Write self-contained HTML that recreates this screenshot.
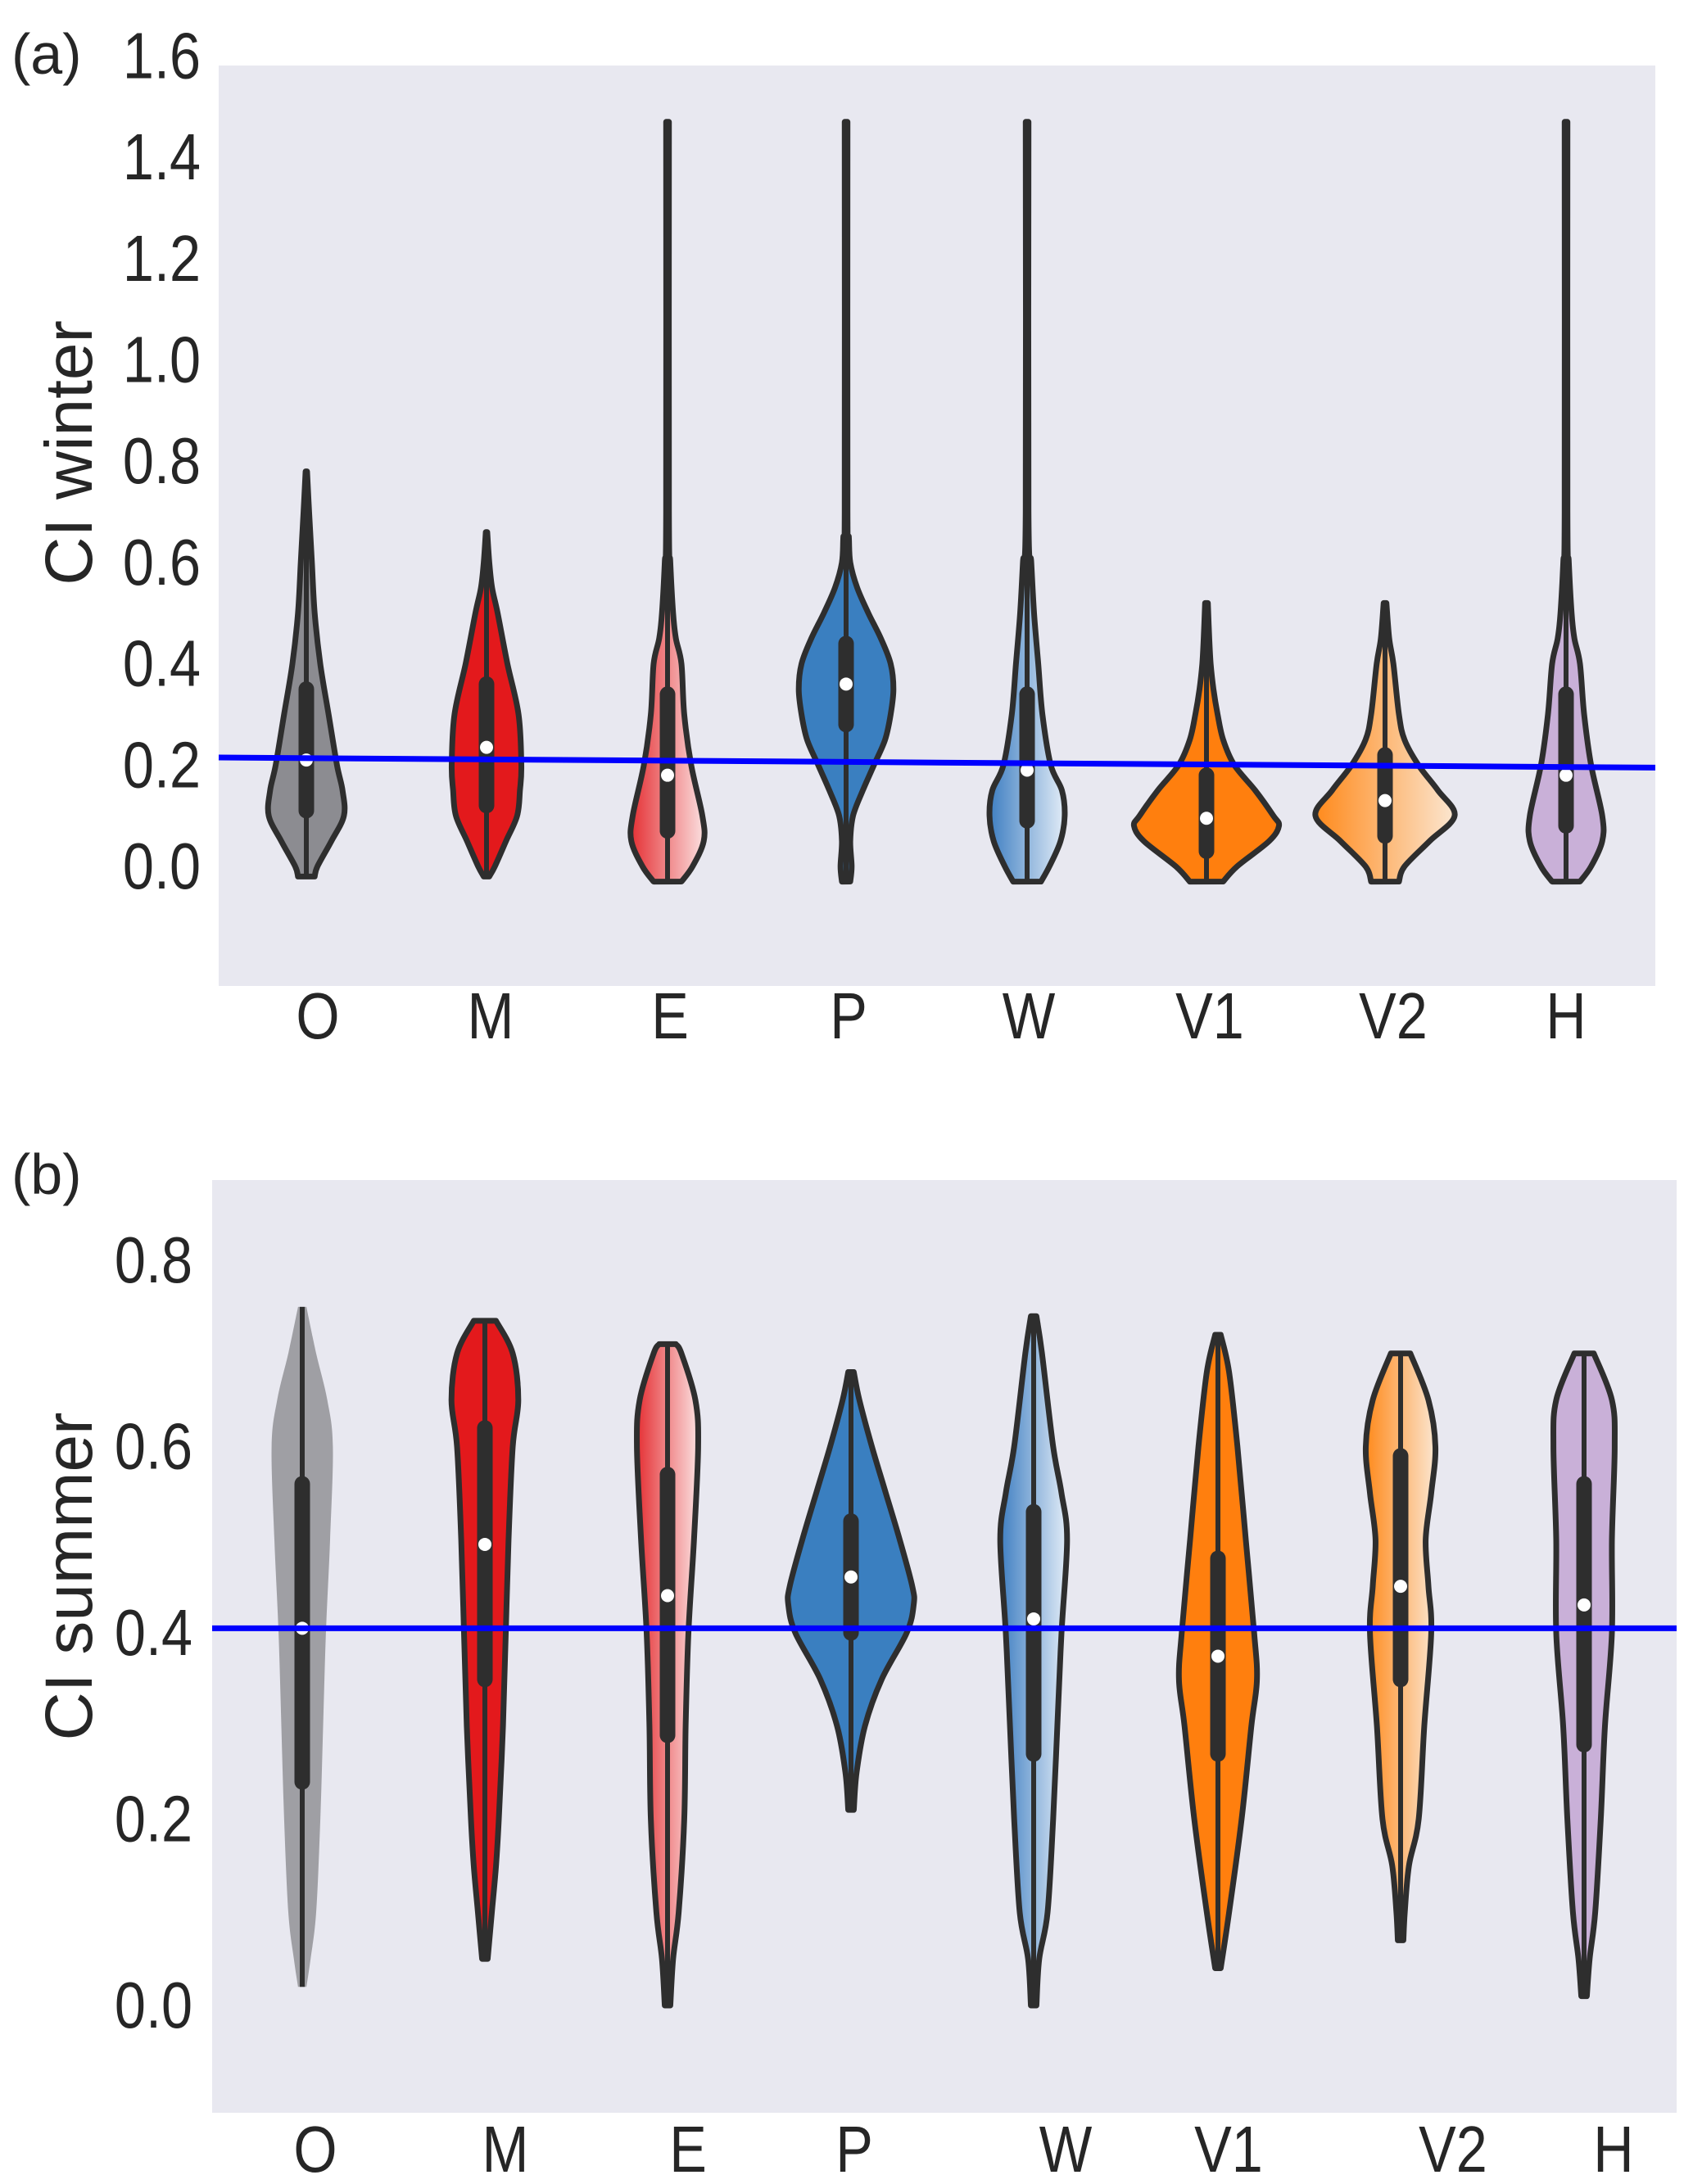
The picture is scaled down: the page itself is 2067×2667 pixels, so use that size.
<!DOCTYPE html>
<html><head><meta charset="utf-8"><style>
html,body{margin:0;padding:0;background:#fff}
svg{display:block}
text{font-family:"Liberation Sans","DejaVu Sans",sans-serif;fill:#262626}
</style></head><body>
<svg id="fig" width="2067" height="2667" viewBox="0 0 2067 2667" xmlns="http://www.w3.org/2000/svg">
<defs>
<linearGradient id="gE" x1="0" x2="1"><stop offset="0" stop-color="#e53034"/><stop offset="1" stop-color="#fbe0e0"/></linearGradient>
<linearGradient id="gW" x1="0" x2="1"><stop offset="0" stop-color="#3f7fc2"/><stop offset="1" stop-color="#e2ecf7"/></linearGradient>
<linearGradient id="gV2" x1="0" x2="1"><stop offset="0" stop-color="#ff8a1c"/><stop offset="1" stop-color="#fbe6d0"/></linearGradient>
</defs>
<g id="panelA"></g>
<g id="panelB"></g>
</svg>
<script>
const categories = ["O","M","E","P","W","V1","V2","H"];
const fills = ["#8c8c91","#e3191c","url(#gE)","#3a7fc0","url(#gW)","#ff7f0e","url(#gV2)","#c9b0d8"];

const winterProfiles = [
 [[-0.02,6],[0,8],[0.05,18],[0.1,27],[0.15,26],[0.2,22],[0.3,16],[0.4,10],[0.5,6],[0.6,4],[0.7,2],[0.78,0.5]],
 [[-0.02,2],[0,6],[0.05,14],[0.1,22],[0.15,24],[0.2,25],[0.3,23],[0.4,15],[0.5,8],[0.55,4],[0.6,2],[0.66,0.5]],
 [[-0.03,10],[0,18],[0.05,26],[0.1,25],[0.2,17],[0.3,12],[0.4,10],[0.45,6],[0.5,4],[0.6,2],[0.7,1],[1.47,1]],
 [[-0.03,3],[0,4],[0.05,3],[0.1,5],[0.15,12],[0.2,20],[0.25,28],[0.3,32],[0.35,34],[0.4,32],[0.45,25],[0.5,16],[0.55,8],[0.6,3],[0.65,2],[0.7,1],[1.47,1]],
 [[-0.03,10],[0,16],[0.05,24],[0.1,27],[0.15,25],[0.2,17],[0.3,11],[0.4,8],[0.5,5],[0.6,3],[0.7,1],[1.47,1]],
 [[-0.03,12],[0,22],[0.05,45],[0.08,52],[0.1,48],[0.15,35],[0.2,20],[0.25,12],[0.3,8],[0.35,5],[0.4,3],[0.45,2],[0.52,1]],
 [[-0.03,10],[0,14],[0.05,32],[0.1,50],[0.15,38],[0.2,24],[0.25,14],[0.3,10],[0.4,6],[0.45,3],[0.52,1]],
 [[-0.03,10],[0,18],[0.05,26],[0.1,26],[0.2,18],[0.3,13],[0.4,10],[0.45,6],[0.5,4],[0.6,2],[0.7,1],[1.47,1]]
];
const winterQ1 = [0.11,0.12,0.07,0.28,0.09,0.03,0.06,0.08];
const winterQ3 = [0.35,0.36,0.34,0.44,0.34,0.18,0.22,0.34];
const winterMedian = [0.21,0.235,0.18,0.36,0.19,0.095,0.13,0.18];
const winterRef = [0.215,0.195];

const summerProfiles = [
 [[0.02,3],[0.05,6],[0.1,10],[0.2,13],[0.3,15],[0.4,17],[0.5,20],[0.6,22],[0.65,18],[0.7,10],[0.75,3]],
 [[0.05,2],[0.1,5],[0.15,8],[0.2,10],[0.3,13],[0.4,15],[0.5,17],[0.6,20],[0.65,24],[0.7,20],[0.735,8]],
 [[0.0,2],[0.05,4],[0.1,8],[0.2,12],[0.3,13],[0.4,15],[0.5,19],[0.6,22],[0.65,20],[0.7,10],[0.71,6]],
 [[0.21,2],[0.25,4],[0.3,10],[0.35,22],[0.4,40],[0.43,45],[0.45,44],[0.5,35],[0.55,25],[0.6,15],[0.65,6],[0.68,2]],
 [[0.0,2],[0.05,4],[0.1,10],[0.2,14],[0.3,17],[0.4,20],[0.5,24],[0.55,20],[0.6,14],[0.7,6],[0.74,2]],
 [[0.04,2],[0.1,8],[0.2,17],[0.3,24],[0.35,28],[0.4,26],[0.5,20],[0.6,14],[0.68,8],[0.72,2]],
 [[0.07,2],[0.1,3],[0.15,6],[0.2,13],[0.3,17],[0.4,22],[0.45,20],[0.5,18],[0.55,22],[0.6,25],[0.65,20],[0.7,7]],
 [[0.01,2],[0.05,4],[0.1,8],[0.2,12],[0.3,15],[0.4,20],[0.5,20],[0.6,22],[0.65,20],[0.7,7]]
];
const summerQ1 = [0.24,0.35,0.29,0.40,0.27,0.27,0.35,0.28];
const summerQ3 = [0.56,0.62,0.57,0.52,0.53,0.48,0.59,0.56];
const summerMedian = [0.405,0.495,0.44,0.46,0.415,0.375,0.45,0.43];
const summerRef = [0.405,0.405];

const winterTicks = ["0.0","0.2","0.4","0.6","0.8","1.0","1.2","1.4","1.6"];
const summerTicks = ["0.0","0.2","0.4","0.6","0.8"];

const NS="http://www.w3.org/2000/svg";
function mk(parent,tag,attrs){const e=document.createElementNS(NS,tag);for(const k in attrs)e.setAttribute(k,attrs[k]);parent.appendChild(e);return e;}

function smooth(pts){
  let d="M"+pts[0][0]+","+pts[0][1];
  for(let i=0;i<pts.length-1;i++){
    const p0=pts[Math.max(0,i-1)],p1=pts[i],p2=pts[i+1],p3=pts[Math.min(pts.length-1,i+2)];
    const c1=[p1[0]+(p2[0]-p0[0])/6,p1[1]+(p2[1]-p0[1])/6];
    const c2=[p2[0]-(p3[0]-p1[0])/6,p2[1]-(p3[1]-p1[1])/6];
    d+=" C"+c1[0].toFixed(1)+","+c1[1].toFixed(1)+" "+c2[0].toFixed(1)+","+c2[1].toFixed(1)+" "+p2[0].toFixed(1)+","+p2[1].toFixed(1);
  }
  return d;
}

function panel(g,cfg){
  const yS=v=>cfg.y0-(v/0.2)*cfg.step;
  const xS=i=>cfg.cx[i];
  const bg=mk(g,"rect",{x:cfg.bx,y:cfg.by,width:cfg.bw,height:cfg.bh,fill:"#e8e8f0"});
  
  
  cfg.ticks.forEach((t)=>{
    const tx=mk(g,"text",{x:0,y:0,"text-anchor":"end","font-size":76,transform:`translate(${cfg.tickX},${yS(parseFloat(t))+27}) scale(0.9,1.05)`});
    tx.textContent=t;
    
    
  });
  const yl=mk(g,"text",{x:0,y:0,"text-anchor":"middle","font-size":82,transform:`translate(${cfg.ylx},${cfg.yly}) rotate(-90)`});
  yl.textContent=cfg.ylabel;
  
  
  const pl=mk(g,"text",{x:14,y:cfg.ply,"font-size":70});
  pl.textContent=cfg.plabel;
  
  
  categories.forEach((c,i)=>{
    const prof=cfg.profiles[i];const cx=xS(i);const sc=1.701;
    const right=prof.map(p=>[cx+p[1]*sc,yS(p[0])]);
    const left=prof.slice().reverse().map(p=>[cx-p[1]*sc,yS(p[0])]);
    const d=smooth(right)+" L"+left[0][0].toFixed(1)+","+left[0][1].toFixed(1)+smooth(left).replace(/^M[^C]*/,"")+" Z";
    const v=mk(g,"path",{d:d,fill:fills[i],stroke:cfg.noOutline[i]?"none":"#2e2e2e","stroke-width":7,"stroke-linejoin":"round","fill-opacity":cfg.noOutline[i]?0.8:1});
    
    
    const lo=prof[0][0],hi=prof[prof.length-1][0];
    const wl=mk(g,"line",{x1:cx,x2:cx,y1:yS(lo),y2:yS(hi),stroke:"#2e2e2e","stroke-width":6});
    
    
    const bx=mk(g,"line",{x1:cx,x2:cx,y1:yS(cfg.q1[i]),y2:yS(cfg.q3[i]),stroke:"#2e2e2e","stroke-width":19,"stroke-linecap":"round"});
    
    
    const md=mk(g,"circle",{cx:cx,cy:yS(cfg.med[i]),r:8,fill:"#fff"});
    
    
    const xl=mk(g,"text",{x:0,y:0,"text-anchor":"middle","font-size":76,transform:`translate(${cfg.lx[i]},${cfg.ly}) scale(0.9,1.05)`});
    xl.textContent=c;
    
    
  });
  const rl=mk(g,"line",{x1:cfg.bx,x2:cfg.bx+cfg.bw,y1:yS(cfg.ref[0]),y2:yS(cfg.ref[1]),stroke:"#0000ff","stroke-width":7});
  
  
}

panel(document.getElementById("panelA"),{
  bx:267,by:80,bw:1754,bh:1124,y0:1058,step:123.7,tickX:245,ticks:winterTicks,
  cx:[374,594,815,1033,1254,1473,1691,1912],lx:[388,599,818,1036,1256,1477,1701,1912],ly:1268,
  profiles:winterProfiles,q1:winterQ1,q3:winterQ3,med:winterMedian,ref:winterRef,
  ylabel:"CI winter",ylx:112,yly:553,plabel:"(a)",ply:90,noOutline:[false,false,false,false,false,false,false,false]
});
panel(document.getElementById("panelB"),{
  bx:259,by:1441,bw:1788,bh:1139,y0:2449,step:227.5,tickX:235,ticks:summerTicks,
  cx:[369,592,815,1039,1262,1487,1710,1934],lx:[385,617,840,1043,1301,1500,1774,1970],ly:2652,
  profiles:summerProfiles,q1:summerQ1,q3:summerQ3,med:summerMedian,ref:summerRef,
  ylabel:"CI summer",ylx:112,yly:1925,plabel:"(b)",ply:1458,noOutline:[true,false,false,false,false,false,false,false]
});
</script>
</body></html>
